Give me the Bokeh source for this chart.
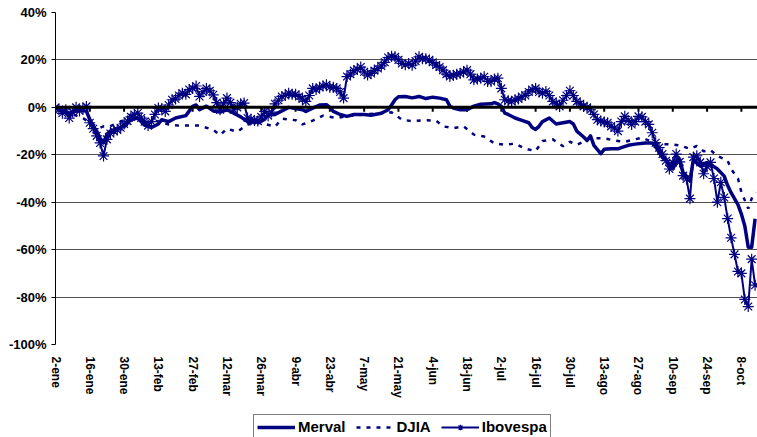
from bokeh.plotting import figure
from bokeh.layouts import column
from bokeh.models import (Range1d, FixedTicker, Span, Legend, LegendItem,
                          PrintfTickFormatter)
from bokeh.embed import file_html
from bokeh.resources import INLINE

# ---- data (trading-day index from 2-ene, % change) ----
tick_days = [0, 10, 20, 30, 40, 50, 60, 70, 80, 90, 100, 110, 120, 130, 140,
             150, 160, 170, 180, 190, 200]
tick_labels = ["2-ene", "16-ene", "30-ene", "13-feb", "27-feb", "12-mar",
               "26-mar", "9-abr", "23-abr", "7-may", "21-may", "4-jun",
               "18-jun", "2-jul", "16-jul", "30-jul", "13-ago", "27-ago",
               "10-sep", "24-sep", "8-oct"]
y_ticks = [-100, -80, -60, -40, -20, 0, 20, 40]

merval_day = [0, 1, 2, 4, 6, 7, 9, 10, 11, 12, 13, 14, 15, 16, 18, 20, 22, 24,
              26, 28, 30, 31, 33, 35, 38, 40, 41, 42, 44, 46, 48, 50, 52, 54,
              56, 58, 60, 61, 62, 64, 66, 68, 70, 72, 73, 75, 77, 79, 80, 81,
              83, 85, 87, 90, 92, 95, 97, 98, 99, 100, 102, 104, 106, 108, 110,
              112, 114, 115, 116, 118, 120, 122, 124, 127, 128, 129, 130, 131,
              132, 134, 136, 138, 139, 140, 141, 142, 144, 146, 148, 150, 151,
              152, 154, 155, 156, 157, 159, 160, 162, 164, 165, 167, 169, 172,
              174, 175, 176, 177, 178, 179, 180, 181, 182, 183, 184, 185, 186,
              187, 188, 190, 192, 193, 195, 196, 197, 199, 200, 201, 202, 203,
              204]
merval_pct = [0, -0.5, -1.7, -2.4, -1.5, -1, -1.7, -5, -8, -10, -13, -15,
              -11.4, -10, -9, -7.9, -5.1, -4.5, -7.4, -8.5, -7, -5.2, -6, -4.5,
              -3.5, 0.4, 1, -1, 0.5, -1.5, -2, -1, -2.5, -4, -6, -6.3, -5.8,
              -5, -3, -3, -1.5, 0, -0.5, -1, -1.7, -0.3, 1, 1.1, 0, -1.7, -3,
              -3.8, -3, -3, -3.3, -2.5, -1, 1, 3.2, 4.5, 4.6, 4, 4.6, 3.7, 4.3,
              3.9, 3.2, 0.5, -0.3, -1, -1, 0.5, 1.3, 1.5, 2, 1.5, 0.4, -2.4,
              -3, -4.5, -5.5, -6.5, -8.5, -9.3, -8, -6, -4.5, -7, -6.5, -6, -7,
              -10, -12.5, -14, -12, -16, -19.5, -17.7, -17.5, -17.5, -17, -16,
              -15.5, -15, -15, -16.5, -19, -21.2, -22, -24, -26, -23, -22,
              -27.4, -29, -30.9, -22, -23.5, -24.7, -23.3, -25, -26, -29, -33,
              -36, -41, -45, -50, -59, -59, -47]

djia_day = [0, 2, 3, 5, 6, 8, 10, 12, 13, 14, 16, 19, 21, 22, 24, 26, 29, 33,
            36, 40, 42, 44, 46, 48, 50, 53, 56, 60, 64, 66, 70, 72, 75, 78, 82,
            86, 90, 94, 98, 101, 104, 108, 111, 113, 116, 119, 122, 125, 128,
            131, 134, 137, 140, 142, 145, 148, 150, 152, 156, 160, 163, 166,
            171, 174, 176, 179, 182, 185, 187, 189, 191, 193, 196, 197, 199,
            200, 202, 203, 204]
djia_pct = [0, -2, -2.5, -3, -3.5, -4.5, -6.5, -8, -8.6, -8, -7.9, -6, -4.5,
            -3.5, -5, -6.5, -5.5, -7.2, -7.7, -7.7, -7.7, -8.6, -9.5, -11.7,
            -9, -10.3, -7.2, -6.5, -8.2, -4.8, -5.4, -7.2, -5.6, -3.5, -4.5,
            -3.5, -3, -2.5, -2.1, -5.2, -5.8, -5.4, -5.6, -8, -8.8, -8, -11.5,
            -12.3, -15.2, -15.8, -15.3, -17.5, -18.4, -14.2, -13.5, -16.4,
            -14.5, -15.8, -13, -13, -14, -14.5, -12.8, -14.5, -15.6, -15.6,
            -16, -17.5, -16.3, -18.5, -18, -20.5, -22.5, -26, -30, -35.7,
            -42.7, -38.5, -35.7]

ibov_pct = [0, -1, -2.5, -1, -4.5, -2, 0, -1.5, -0.5, 0.4,
            -6.5, -9, -12, -15, -20.5, -13.5, -11, -10, -9.5, -8.6,
            -7, -5.8, -4, -3, -2.4, -4.5, -6, -7.7, -6, -3,
            -0.3, -0.5, -1.7, 1, 3.2, 3.5, 5, 6, 5.5, 7.5,
            8, 9, 4.6, 6.5, 8, 7, 5.3, 2, -1, 1.5,
            3.9, 2, -1, 0, 1.5, 1.8, -4.5, -5, -5.5, -5.8,
            -4, -1.7, -3.5, -2, 1.5, 3, 4.6, 5, 6, 5.5,
            5.5, 4.6, 3.5, 2.5, 5, 8, 7.5, 8.5, 9, 9.5,
            8.5, 8.5, 8, 6.5, 3.9, 13, 14, 15.5, 16, 17,
            15, 13.6, 14.3, 15.5, 16.4, 17.5, 19, 21, 21.5, 21.3,
            20, 18.5, 18, 18.5, 17.8, 19.5, 21.3, 20.5, 20.5, 20,
            19, 17.8, 17, 15.7, 14, 13, 13.5, 14, 14.3, 15,
            15.7, 14, 11.6, 12, 12.3, 12.9, 10.9, 10.9, 12, 12.3,
            8, 3.2, 2.8, 2.5, 3.2, 3.5, 4.6, 5, 6.5, 7.5,
            8, 6.5, 6, 6.7, 5, 2.5, 1.5, 0.4, 3, 5,
            7, 5, 2.5, 1.5, 0.4, 0, -1, -3, -5.2, -5.8,
            -6.2, -6.5, -8, -8.6, -10, -6, -3.8, -5.5, -7.2, -6,
            -3.8, -4, -6, -7.2, -10.7, -14.9, -17, -19.7, -22.5, -26,
            -23.3, -19.7, -23, -28.8, -30.2, -38.5, -21, -20.4, -23.2, -28,
            -25, -23.2, -30, -40, -31.6, -38, -46.9, -55, -62, -69.2,
            -70, -81, -84, -64, -75]
ibov_day = list(range(len(ibov_pct)))

NAVY = "#000080"
FONT = "Liberation Sans"
NAN = float("nan")

p = figure(width=757, height=400, x_range=Range1d(0, 204.7),
           y_range=Range1d(-100, 40), output_backend="svg",
           toolbar_location=None, min_border_left=55, min_border_right=0,
           min_border_top=12, min_border_bottom=53)
p.outline_line_color = None
p.background_fill_color = "white"
p.border_fill_color = "white"

# grid
p.xgrid.grid_line_color = None
p.ygrid.ticker = FixedTicker(ticks=y_ticks)
p.ygrid.grid_line_color = "#505050"
p.ygrid.grid_line_width = 1

# y axis
p.yaxis.ticker = FixedTicker(ticks=y_ticks)
p.yaxis.formatter = PrintfTickFormatter(format="%d%%")
p.yaxis.axis_line_color = "black"
p.yaxis.major_tick_out = 4
p.yaxis.major_tick_in = 0
p.yaxis.minor_tick_line_color = None
p.yaxis.major_label_standoff = 5
p.yaxis.major_label_text_font = FONT
p.yaxis.major_label_text_font_style = "bold"
p.yaxis.major_label_text_font_size = "13px"
p.yaxis.major_label_text_color = "black"

# x axis (labels only; ticks drawn on the zero line)
p.xaxis.ticker = FixedTicker(ticks=tick_days)
p.xaxis.major_label_overrides = {d: l for d, l in zip(tick_days, tick_labels)}
p.xaxis.major_label_orientation = "vertical"
p.xaxis.axis_line_color = None
p.xaxis.major_tick_line_color = None
p.xaxis.minor_tick_line_color = None
p.xaxis.major_tick_out = 0
p.xaxis.major_tick_in = 0
p.xaxis.major_label_standoff = 12
p.xaxis.major_label_text_font = FONT
p.xaxis.major_label_text_font_style = "bold"
p.xaxis.major_label_text_font_size = "12px"
p.xaxis.major_label_text_color = "black"

# zero line with tick marks
p.add_layout(Span(location=0, dimension="width", line_color="black",
                  line_width=3))
p.segment(x0=tick_days, y0=[0] * len(tick_days), x1=tick_days,
          y1=[-1.9] * len(tick_days), line_color="black", line_width=2)

p.line(merval_day, merval_pct, line_color=NAVY, line_width=3.5,
       line_join="round")
p.line(djia_day, djia_pct, line_color=NAVY, line_width=2.5, line_dash="4 6")
p.line(ibov_day, ibov_pct, line_color=NAVY, line_width=2)
p.scatter(ibov_day, ibov_pct, marker="asterisk", size=11,
          line_color=NAVY, line_width=1.2)

# ---- legend strip below the chart (proxy renderers hold no visible data) ----
lf = figure(width=757, height=37, x_range=Range1d(0, 1), y_range=Range1d(0, 1),
            x_axis_type=None, y_axis_type=None, output_backend="svg",
            toolbar_location=None, min_border=0)
lf.outline_line_color = None
lf.grid.visible = False
lm = lf.line([NAN], [NAN], line_color=NAVY, line_width=3.5)
ld = lf.line([NAN], [NAN], line_color=NAVY, line_width=2.5, line_dash="4 6")
li = lf.line([NAN], [NAN], line_color=NAVY, line_width=2)
lim = lf.scatter([NAN], [NAN], marker="asterisk", size=13, line_color=NAVY,
                 line_width=1.2)

legend = Legend(items=[LegendItem(label="Merval", renderers=[lm]),
                       LegendItem(label="DJIA", renderers=[ld]),
                       LegendItem(label="Ibovespa", renderers=[li, lim])],
                location=(198, -2), orientation="horizontal")
legend.border_line_color = "black"
legend.border_line_width = 1
legend.background_fill_color = "white"
legend.background_fill_alpha = 1
legend.label_text_font = FONT
legend.label_text_font_style = "bold"
legend.label_text_font_size = "15px"
legend.label_text_color = "black"
legend.glyph_width = 38
legend.glyph_height = 14
legend.label_height = 14
legend.label_standoff = 3
legend.spacing = 10
legend.padding = 3
legend.margin = 0
lf.add_layout(legend)

layout = column(p, lf, spacing=0)
open("out.html", "w").write(file_html(layout, INLINE))
